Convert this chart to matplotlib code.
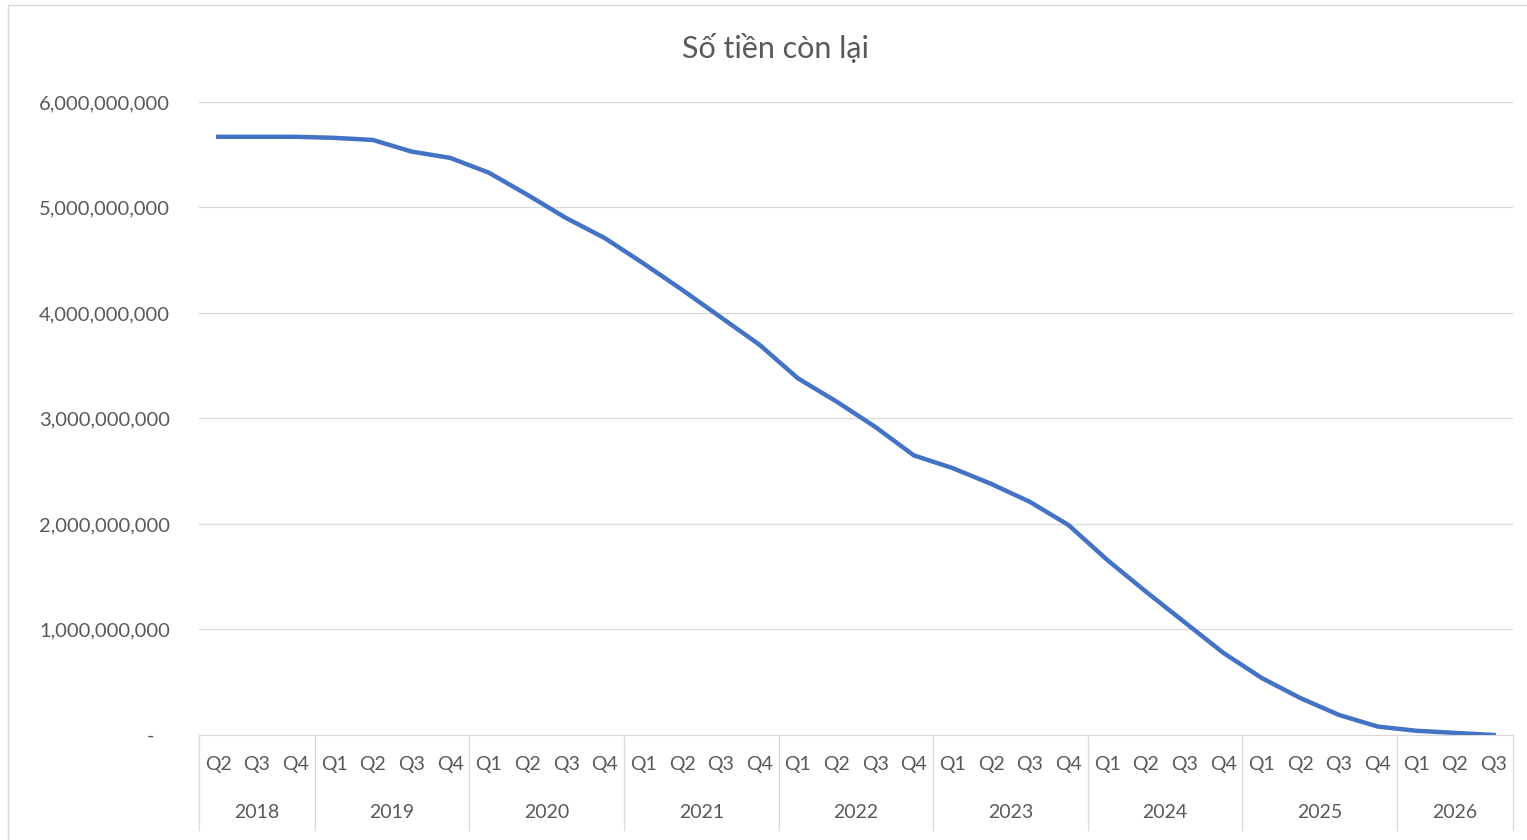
import matplotlib
matplotlib.use("Agg")
import matplotlib.pyplot as plt
from matplotlib.ticker import FuncFormatter
from matplotlib.patches import Rectangle

# so tien con lai theo quy (ty dong)
years = ["2018", "2019", "2020", "2021", "2022", "2023", "2024", "2025", "2026"]
quarters = [["Q2", "Q3", "Q4"],
            ["Q1", "Q2", "Q3", "Q4"],
            ["Q1", "Q2", "Q3", "Q4"],
            ["Q1", "Q2", "Q3", "Q4"],
            ["Q1", "Q2", "Q3", "Q4"],
            ["Q1", "Q2", "Q3", "Q4"],
            ["Q1", "Q2", "Q3", "Q4"],
            ["Q1", "Q2", "Q3", "Q4"],
            ["Q1", "Q2", "Q3"]]
values = [5.67, 5.67, 5.67,
          5.66, 5.64, 5.53, 5.47,
          5.33, 5.12, 4.90, 4.71,
          4.47, 4.22, 3.96, 3.70,
          3.38, 3.16, 2.92, 2.65,
          2.53, 2.38, 2.21, 1.99,
          1.66, 1.36, 1.07, 0.78,
          0.54, 0.35, 0.19, 0.08,
          0.04, 0.02, 0.00]
values = [v * 1e9 for v in values]

plt.rcParams['font.family'] = ['Lato', 'DejaVu Sans']
grey = '#595959'
lgrey = '#d9d9d9'
fs = 14.5

fig = plt.figure(figsize=(15.27, 8.4), dpi=100)
ax = fig.add_axes([0.1303, 0.125, 0.8605, 0.7536])

x = list(range(len(values)))
ax.plot(x, values, color='#4472C4', linewidth=3.2)

ax.set_xlim(-0.5, len(values) - 0.5)
ax.set_ylim(0, 6e9)
ax.set_yticks([i * 1e9 for i in range(7)])
ax.yaxis.set_major_formatter(FuncFormatter(lambda v, p: "{:,.0f}".format(v) if v else "-   "))
ax.tick_params(axis='y', length=0, pad=21, labelsize=fs, labelcolor=grey)
ax.set_xticks([])
ax.grid(axis='y', color=lgrey, linewidth=0.9)
ax.set_axisbelow(True)
for s in ['top', 'right', 'left']:
    ax.spines[s].set_visible(False)
ax.spines['bottom'].set_color(lgrey)

# nhan truc x hai cap
tr = ax.get_xaxis_transform()
pos = 0
ax.plot([-0.5, -0.5], [0, -0.15], color=lgrey, lw=0.9, transform=tr, clip_on=False)
for yr, qs in zip(years, quarters):
    for k, q in enumerate(qs):
        ax.text(pos + k, -0.047, q, transform=tr, ha='center', va='center',
                fontsize=14, color=grey)
    ax.text(pos + (len(qs) - 1) / 2, -0.122, yr, transform=tr, ha='center', va='center',
            fontsize=14, color=grey)
    pos += len(qs)
    ax.plot([pos - 0.5, pos - 0.5], [0, -0.15], color=lgrey, lw=0.9, transform=tr, clip_on=False)

fig.text(0.5075, 0.943, "Số tiền còn lại", ha='center', va='center', fontsize=22, color=grey)

fig.patches.append(Rectangle((0.005, -0.01), 1.0, 1.004, transform=fig.transFigure,
                             fill=False, edgecolor=lgrey, linewidth=1))

fig.savefig("out.png", dpi=100)
